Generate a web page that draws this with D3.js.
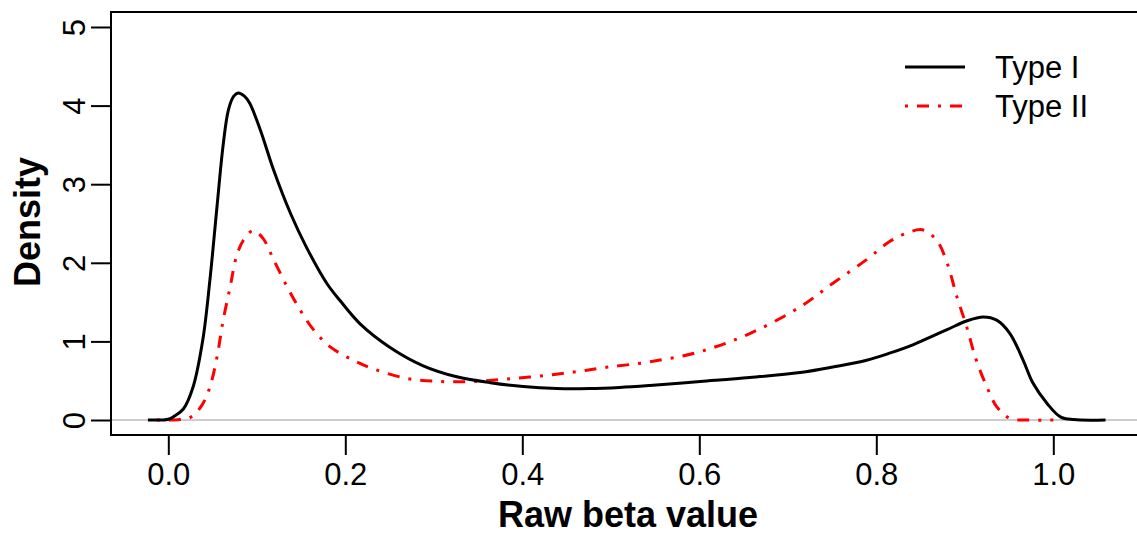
<!DOCTYPE html>
<html>
<head>
<meta charset="utf-8">
<script src="https://cdn.jsdelivr.net/npm/d3@7"></script>
<style>
  html, body { margin: 0; padding: 0; background: #fff; }
  svg { display: block; font-family: "Liberation Sans", Arial, Helvetica, sans-serif; }
</style>
</head>
<body>
<svg id="chart" width="1137" height="535"></svg>
<script>
// ---- data ----
const seriesNames = ["Type I", "Type II"];
const typeIx = [-0.023, 0.0, 0.007, 0.017, 0.028, 0.039, 0.047, 0.055, 0.062, 0.068, 0.074, 0.079, 0.086, 0.092, 0.104, 0.119, 0.138, 0.156, 0.179, 0.194, 0.217, 0.251, 0.288, 0.326, 0.364, 0.401, 0.439, 0.476, 0.510, 0.544, 0.601, 0.657, 0.714, 0.751, 0.789, 0.815, 0.842, 0.880, 0.902, 0.921, 0.936, 0.951, 0.966, 0.977, 0.993, 1.008, 1.023, 1.059];
const typeIy = [0, 0.01, 0.05, 0.14, 0.42, 1.02, 1.78, 2.71, 3.50, 3.95, 4.12, 4.16, 4.12, 4.03, 3.69, 3.18, 2.63, 2.20, 1.74, 1.52, 1.22, 0.92, 0.69, 0.55, 0.475, 0.425, 0.40, 0.40, 0.415, 0.44, 0.49, 0.54, 0.605, 0.675, 0.76, 0.85, 0.96, 1.15, 1.26, 1.31, 1.27, 1.10, 0.76, 0.47, 0.21, 0.04, 0.005, 0];
const typeIIx = [-0.013, 0.013, 0.026, 0.038, 0.047, 0.055, 0.062, 0.070, 0.077, 0.085, 0.096, 0.107, 0.119, 0.134, 0.149, 0.164, 0.183, 0.209, 0.232, 0.269, 0.307, 0.345, 0.382, 0.420, 0.458, 0.495, 0.544, 0.601, 0.657, 0.714, 0.751, 0.789, 0.815, 0.835, 0.852, 0.868, 0.880, 0.891, 0.902, 0.913, 0.925, 0.936, 0.951, 0.970, 1.000];
const typeIIy = [0, 0.005, 0.04, 0.19, 0.42, 0.80, 1.27, 1.70, 2.08, 2.29, 2.41, 2.31, 2.04, 1.70, 1.40, 1.15, 0.93, 0.76, 0.65, 0.53, 0.49, 0.49, 0.52, 0.56, 0.61, 0.67, 0.74, 0.87, 1.10, 1.44, 1.74, 2.04, 2.27, 2.38, 2.42, 2.29, 2.00, 1.57, 1.19, 0.76, 0.42, 0.17, 0.02, 0.0, 0];
const xTicks = [0.0, 0.2, 0.4, 0.6, 0.8, 1.0];
const yTicks = [0, 1, 2, 3, 4, 5];
const xTitle = "Raw beta value";
const yTitle = "Density";

// ---- layout ----
const svg = d3.select("#chart");
const box = { left: 111, top: 12, right: 1145, bottom: 435 };
const x = d3.scaleLinear().domain([0, 1]).range([168.3, 1053.3]);
const y = d3.scaleLinear().domain([0, 5]).range([420, 27]);

svg.append("rect").attr("width", 1137).attr("height", 535).attr("fill", "#fff");

// zero reference line
svg.append("line")
  .attr("x1", box.left).attr("x2", box.right)
  .attr("y1", y(0)).attr("y2", y(0))
  .attr("stroke", "#bdbdbd").attr("stroke-width", 1.6);

const line = d3.line().x(d => x(d[0])).y(d => Math.min(y(0), y(d[1]))).curve(d3.curveCatmullRom.alpha(0.5));
const d1 = typeIx.map((v, i) => [v, typeIy[i]]);
const d2 = typeIIx.map((v, i) => [v, typeIIy[i]]);

svg.append("path").attr("d", line(d2))
  .attr("fill", "none").attr("stroke", "#ff0000").attr("stroke-width", 3)
  .attr("stroke-dasharray", "3,9,12,9");
svg.append("path").attr("d", line(d1))
  .attr("fill", "none").attr("stroke", "#000").attr("stroke-width", 3);

// box
svg.append("rect")
  .attr("x", box.left).attr("y", box.top)
  .attr("width", box.right - box.left).attr("height", box.bottom - box.top)
  .attr("fill", "none").attr("stroke", "#000").attr("stroke-width", 2);

// x axis
const gx = svg.append("g").attr("transform", `translate(0,${box.bottom})`)
  .call(d3.axisBottom(x).tickValues(xTicks).tickSize(20).tickPadding(8).tickFormat(d3.format(".1f")));
gx.select(".domain").remove();
gx.selectAll(".tick line").attr("stroke", "#000").attr("stroke-width", 2);
gx.selectAll("text").attr("font-size", 31).attr("fill", "#000")
  .attr("font-family", "'Liberation Sans', Arial, sans-serif");

// y axis
const gy = svg.append("g").attr("transform", `translate(${box.left},0)`)
  .call(d3.axisLeft(y).tickValues(yTicks).tickSize(20).tickFormat(d3.format("d")));
gy.select(".domain").remove();
gy.selectAll(".tick line").attr("stroke", "#000").attr("stroke-width", 2);
gy.selectAll("text")
  .attr("x", 0).attr("dy", 0)
  .attr("transform", "translate(-26,0) rotate(-90)")
  .attr("text-anchor", "middle")
  .attr("font-size", 31).attr("fill", "#000")
  .attr("font-family", "'Liberation Sans', Arial, sans-serif");

// titles
svg.append("text").attr("x", 628).attr("y", 527)
  .attr("text-anchor", "middle").attr("font-size", 36).attr("font-weight", "bold")
  .text(xTitle);
svg.append("text").attr("transform", "translate(40,222) rotate(-90)")
  .attr("text-anchor", "middle").attr("font-size", 36).attr("font-weight", "bold")
  .text(yTitle);

// legend
const legend = svg.append("g");
const legY = [67, 106];
legend.append("line").attr("x1", 905).attr("x2", 965).attr("y1", legY[0]).attr("y2", legY[0])
  .attr("stroke", "#000").attr("stroke-width", 3);
legend.append("line").attr("x1", 905).attr("x2", 965).attr("y1", legY[1]).attr("y2", legY[1])
  .attr("stroke", "#ff0000").attr("stroke-width", 3).attr("stroke-dasharray", "3,9,12,9");
seriesNames.forEach((n, i) => {
  legend.append("text").attr("x", 995).attr("y", legY[i] + 11)
    .attr("font-size", 31).attr("fill", "#000").text(n);
});
</script>
</body>
</html>
